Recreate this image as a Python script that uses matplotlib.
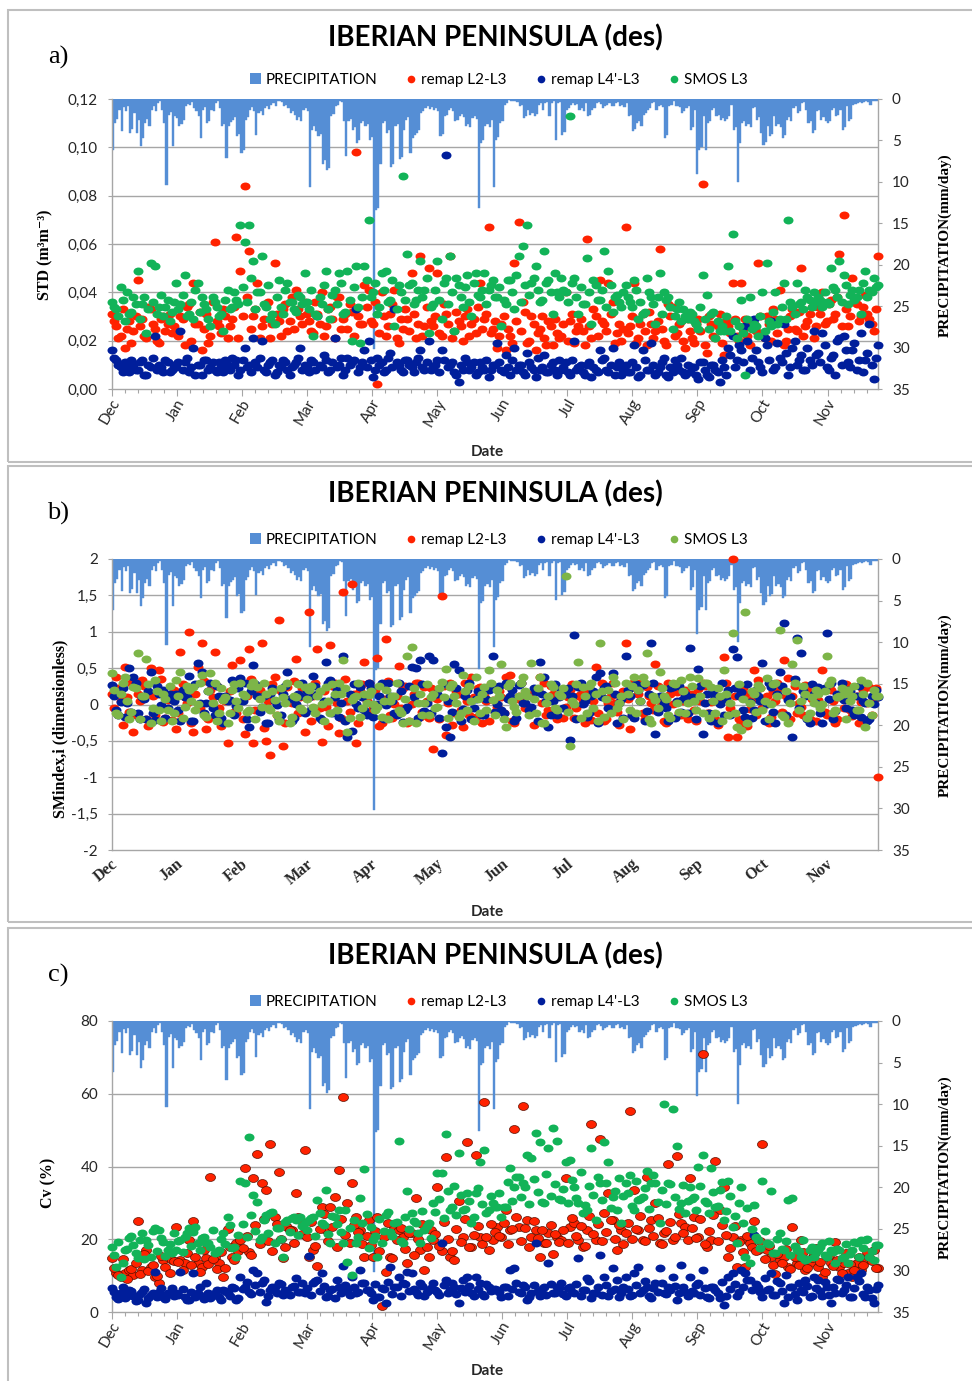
import numpy as np
import matplotlib
matplotlib.use("Agg")
import matplotlib.pyplot as plt
import matplotlib.transforms as mtransforms
from matplotlib.lines import Line2D
from matplotlib.markers import MarkerStyle
from matplotlib.patches import Patch, Rectangle

# ── Figure geometry (pixels) ──────────────────────────────────────────────────
W, H = 972, 1381
PLOT_L, PLOT_R = 112, 878

SANS = ['Lato', 'DejaVu Sans']
SERIF = ['Liberation Serif', 'DejaVu Serif']

C_PRECIP = '#558ED5'
C_L2 = '#FF2200'
C_L4 = '#001E9B'
C_SMOS = '#12B358'
C_SMOS_B = '#7DB548'
C_GRID = '#A6A6A6'
C_TEXT = '#262626'

# slightly flattened dots, as the spreadsheet draws them
DOT = MarkerStyle('o', transform=mtransforms.Affine2D().scale(1.2, 0.95))

# ── Data ──────────────────────────────────────────────────────────────────────
MONTHS = ['Dec', 'Jan', 'Feb', 'Mar', 'Apr', 'May',
          'Jun', 'Jul', 'Aug', 'Sep', 'Oct', 'Nov']
N_DAYS = 358
MONTH_LEN = 30.4

# daily precipitation, mm/day (Dec .. Nov)
PRECIP = [
    6.1, 2.9, 2.4, 1.3, 3.9, 1.0, 1.5, 0.9, 4.1, 3.6, 1.7, 4.1, 2.5, 5.7, 4.7,
    2.9, 2.4, 3.2, 1.3, 0.8, 1.5, 0.5, 0.3, 1.3, 2.9, 10.4, 1.9, 1.6, 5.7, 2.1,
    2.3, 3.3, 3.0, 2.5, 0.9, 0.6, 0.7, 0.4, 1.1, 1.4, 2.1, 4.7, 1.3, 1.0, 2.9,
    2.6, 1.3, 1.5, 0.5, 0.3, 1.1, 3.3, 3.0, 7.1, 3.3, 2.8, 2.5, 2.2, 4.5, 4.2,
    6.5, 6.2, 2.5, 2.2, 1.3, 1.0, 1.5, 4.3, 1.7, 1.4, 1.9, 1.1, 0.8, 1.2, 0.7,
    0.5, 0.8, 0.3, 0.2, 0.4, 0.9, 0.7, 1.1, 1.7, 1.5, 1.9, 2.5, 2.2, 2.7, 1.3,
    1.1, 1.4, 10.6, 3.7, 3.3, 3.9, 4.5, 4.2, 7.8, 7.4, 8.6, 8.3, 2.1, 1.8, 0.9,
    0.7, 0.3, 0.4, 2.7, 6.9, 2.7, 2.4, 3.7, 3.4, 5.3, 5.0, 2.9, 2.6, 3.3, 3.0,
    4.9, 4.6, 30.2, 13.4, 13.1, 7.8, 2.9, 2.6, 4.1, 3.8, 8.2, 7.9, 3.3, 3.0, 7.3,
    7.0, 3.7, 2.5, 2.2, 6.5, 4.7, 4.4, 4.1, 3.8, 1.7, 1.5, 1.1, 0.9, 1.2, 1.0,
    1.3, 1.1, 1.4, 4.5, 4.2, 2.1, 1.9, 1.3, 1.1, 1.4, 2.7, 2.5, 2.1, 1.8, 2.2,
    3.3, 3.0, 3.4, 2.3, 2.0, 2.4, 13.2, 5.3, 5.0, 3.3, 3.0, 3.4, 2.5, 10.6, 4.9,
    4.6, 2.9, 2.6, 0.7, 0.5, 0.1, 0.2, 0.3, 0.2, 0.4, 0.9, 0.7, 2.3, 2.0, 1.3,
    1.9, 1.7, 2.0, 1.8, 0.7, 0.5, 1.3, 0.5, 0.4, 2.1, 0.5, 0.3, 4.9, 0.5, 0.4,
    4.3, 4.0, 1.3, 1.1, 0.7, 0.5, 0.7, 0.6, 1.3, 1.1, 1.4, 0.5, 2.1, 1.9, 1.3,
    1.1, 0.5, 0.4, 0.6, 1.1, 0.9, 0.7, 0.5, 0.9, 0.8, 0.5, 0.4, 0.9, 0.7, 1.0,
    0.5, 2.1, 1.9, 3.9, 3.6, 2.9, 2.6, 3.3, 1.9, 1.7, 1.3, 1.1, 0.5, 0.4, 1.3,
    0.9, 0.7, 1.0, 4.7, 4.4, 0.9, 0.7, 0.3, 0.9, 0.8, 1.0, 1.7, 1.5, 1.1, 0.9,
    3.7, 3.4, 1.3, 9.0, 6.1, 5.8, 2.1, 6.1, 2.9, 2.6, 1.3, 1.1, 2.1, 1.9, 2.5,
    2.3, 2.6, 2.4, 2.1, 0.7, 3.7, 3.4, 10.0, 5.3, 2.9, 2.6, 3.3, 3.0, 3.4, 1.1,
    1.0, 2.5, 2.2, 4.1, 5.5, 5.2, 3.3, 4.5, 4.2, 2.1, 3.3, 3.0, 3.4, 4.7, 4.4,
    2.5, 2.2, 2.6, 1.1, 0.9, 1.7, 1.5, 0.5, 0.4, 1.3, 2.9, 2.6, 4.1, 3.8, 1.5,
    1.3, 2.5, 2.2, 2.6, 2.9, 2.7, 1.3, 1.1, 2.1, 1.9, 1.3, 3.7, 3.4, 0.9, 2.7,
    2.4, 0.7, 0.6, 0.5, 0.4, 0.5, 0.4, 0.3, 0.4, 0.7, 0.3, 0.2, 0.3,
]

# Each product is stored as two lists: retrievals on even days (0, 2, ..)
# and on odd days (1, 3, ..).

# a) standard deviation, m3/m3
STD_L2 = [
    0.031, 0.026, 0.022, 0.017, 0.028, 0.024, 0.045, 0.029, 0.021, 0.033, 0.025, 0.019, 0.030, 0.027, 0.023,
    0.024, 0.030, 0.018, 0.035, 0.044, 0.027, 0.016, 0.031, 0.022, 0.061, 0.026, 0.033, 0.021, 0.029, 0.063,
    0.049, 0.084, 0.057, 0.030, 0.044, 0.026, 0.035, 0.021, 0.052, 0.028, 0.033, 0.024, 0.038, 0.041, 0.030,
    0.036, 0.028, 0.023, 0.031, 0.040, 0.026, 0.034, 0.021, 0.038, 0.029, 0.025, 0.032, 0.098, 0.027, 0.043,
    0.041, 0.027, 0.002, 0.040, 0.022, 0.031, 0.041, 0.019, 0.025, 0.029, 0.048, 0.021, 0.055, 0.026, 0.050,
    0.026, 0.048, 0.022, 0.031, 0.055, 0.024, 0.028, 0.020, 0.033, 0.027, 0.023, 0.044, 0.029, 0.067, 0.025,
    0.017, 0.027, 0.016, 0.022, 0.052, 0.069, 0.036, 0.019, 0.030, 0.016, 0.025, 0.021, 0.028, 0.018, 0.023,
    0.022, 0.040, 0.028, 0.019, 0.026, 0.024, 0.062, 0.021, 0.030, 0.045, 0.027, 0.044, 0.036, 0.023, 0.020,
    0.067, 0.026, 0.044, 0.021, 0.031, 0.018, 0.027, 0.024, 0.058, 0.020, 0.035, 0.034, 0.023, 0.028, 0.017,
    0.024, 0.019, 0.029, 0.085, 0.015, 0.027, 0.021, 0.031, 0.014, 0.026, 0.044, 0.022, 0.044, 0.029, 0.018,
    0.027, 0.052, 0.022, 0.030, 0.020, 0.029, 0.041, 0.018, 0.025, 0.033, 0.024, 0.050, 0.026, 0.031, 0.021,
    0.034, 0.040, 0.028, 0.037, 0.031, 0.056, 0.072, 0.026, 0.046, 0.035, 0.030, 0.039, 0.029, 0.024, 0.055,
]
STD_L2_ODD = [
    0.028, 0.021, 0.033, 0.025, 0.019, 0.030, 0.026, 0.022, 0.034, 0.027, 0.020, 0.029, 0.024, 0.031, 0.026,
    0.022, 0.029, 0.034, 0.020, 0.027, 0.032, 0.025, 0.019, 0.036, 0.028, 0.023, 0.030, 0.026, 0.034, 0.021,
    0.030, 0.038, 0.025, 0.033, 0.021, 0.029, 0.036, 0.027, 0.031, 0.022, 0.035, 0.028, 0.025, 0.033, 0.027,
    0.031, 0.024, 0.036, 0.027, 0.022, 0.033, 0.029, 0.038, 0.025, 0.031, 0.035, 0.022, 0.030, 0.027, 0.034,
    0.028, 0.036, 0.023, 0.030, 0.026, 0.035, 0.021, 0.029, 0.033, 0.024, 0.031, 0.027, 0.022, 0.034, 0.028,
    0.030, 0.023, 0.035, 0.027, 0.021, 0.032, 0.026, 0.030, 0.022, 0.029, 0.034, 0.025, 0.031, 0.023, 0.028,
    0.022, 0.030, 0.025, 0.019, 0.028, 0.024, 0.032, 0.020, 0.027, 0.023, 0.030, 0.018, 0.026, 0.029, 0.021,
    0.027, 0.020, 0.031, 0.024, 0.029, 0.018, 0.026, 0.033, 0.022, 0.028, 0.024, 0.031, 0.019, 0.027, 0.025,
    0.023, 0.030, 0.019, 0.027, 0.024, 0.032, 0.021, 0.028, 0.025, 0.018, 0.030, 0.022, 0.027, 0.020, 0.029,
    0.021, 0.027, 0.024, 0.018, 0.030, 0.022, 0.026, 0.019, 0.028, 0.023, 0.029, 0.020, 0.025, 0.022, 0.027,
    0.024, 0.030, 0.021, 0.027, 0.033, 0.023, 0.028, 0.020, 0.030, 0.025, 0.032, 0.022, 0.028, 0.034, 0.026,
    0.031, 0.027, 0.035, 0.029, 0.038, 0.026, 0.033, 0.030, 0.036, 0.028, 0.034, 0.031, 0.027, 0.033,
]
STD_L4 = [
    0.016, 0.012, 0.009, 0.011, 0.007, 0.010, 0.008, 0.012, 0.006, 0.009, 0.022, 0.010, 0.007, 0.011, 0.008,
    0.009, 0.024, 0.011, 0.007, 0.017, 0.010, 0.006, 0.012, 0.009, 0.008, 0.011, 0.007, 0.010, 0.013, 0.012,
    0.008, 0.017, 0.010, 0.021, 0.009, 0.020, 0.007, 0.011, 0.006, 0.010, 0.012, 0.008, 0.009, 0.011, 0.017,
    0.010, 0.007, 0.011, 0.030, 0.009, 0.012, 0.008, 0.021, 0.010, 0.006, 0.013, 0.011, 0.033, 0.009, 0.016,
    0.020, 0.005, 0.013, 0.011, 0.008, 0.015, 0.033, 0.010, 0.007, 0.012, 0.009, 0.011, 0.016, 0.008, 0.020,
    0.009, 0.012, 0.016, 0.097, 0.010, 0.007, 0.003, 0.008, 0.011, 0.009, 0.006, 0.011, 0.008, 0.005, 0.010,
    0.019, 0.008, 0.014, 0.006, 0.017, 0.010, 0.007, 0.015, 0.009, 0.005, 0.008, 0.014, 0.007, 0.011, 0.006,
    0.008, 0.011, 0.006, 0.020, 0.009, 0.007, 0.010, 0.005, 0.008, 0.016, 0.013, 0.007, 0.017, 0.009, 0.006,
    0.010, 0.007, 0.018, 0.005, 0.016, 0.008, 0.019, 0.006, 0.009, 0.013, 0.005, 0.007, 0.010, 0.013, 0.006,
    0.007, 0.009, 0.004, 0.011, 0.006, 0.010, 0.008, 0.003, 0.009, 0.017, 0.022, 0.012, 0.016, 0.026, 0.008,
    0.029, 0.011, 0.007, 0.018, 0.028, 0.009, 0.013, 0.027, 0.006, 0.017, 0.010, 0.014, 0.008, 0.012, 0.024,
    0.015, 0.023, 0.009, 0.013, 0.006, 0.021, 0.022, 0.011, 0.016, 0.008, 0.023, 0.012, 0.027, 0.004, 0.018,
]
STD_L4_ODD = [
    0.013, 0.010, 0.007, 0.009, 0.012, 0.008, 0.011, 0.006, 0.010, 0.013, 0.008, 0.009, 0.012, 0.007, 0.010,
    0.011, 0.008, 0.013, 0.009, 0.006, 0.010, 0.012, 0.008, 0.011, 0.007, 0.009, 0.012, 0.008, 0.010, 0.006,
    0.012, 0.009, 0.007, 0.011, 0.013, 0.008, 0.010, 0.012, 0.007, 0.009, 0.011, 0.006, 0.010, 0.013, 0.008,
    0.009, 0.012, 0.008, 0.010, 0.014, 0.007, 0.011, 0.009, 0.013, 0.008, 0.010, 0.012, 0.007, 0.011, 0.009,
    0.012, 0.008, 0.010, 0.007, 0.013, 0.009, 0.011, 0.008, 0.012, 0.010, 0.007, 0.013, 0.009, 0.011, 0.008,
    0.010, 0.007, 0.012, 0.009, 0.011, 0.006, 0.010, 0.013, 0.008, 0.011, 0.007, 0.009, 0.012, 0.008, 0.010,
    0.011, 0.007, 0.009, 0.012, 0.008, 0.010, 0.006, 0.011, 0.008, 0.013, 0.009, 0.007, 0.010, 0.008, 0.012,
    0.009, 0.007, 0.012, 0.008, 0.010, 0.006, 0.011, 0.009, 0.007, 0.012, 0.008, 0.010, 0.006, 0.011, 0.008,
    0.007, 0.011, 0.009, 0.006, 0.012, 0.008, 0.010, 0.007, 0.011, 0.006, 0.009, 0.012, 0.008, 0.007, 0.010,
    0.009, 0.006, 0.011, 0.008, 0.005, 0.010, 0.007, 0.012, 0.006, 0.014, 0.009, 0.018, 0.011, 0.020, 0.013,
    0.016, 0.009, 0.021, 0.012, 0.008, 0.019, 0.011, 0.015, 0.009, 0.020, 0.012, 0.008, 0.017, 0.010, 0.014,
    0.011, 0.018, 0.008, 0.014, 0.020, 0.010, 0.016, 0.009, 0.019, 0.012, 0.007, 0.015, 0.010, 0.013,
]
STD_SMOS = [
    0.036, 0.033, 0.042, 0.028, 0.031, 0.038, 0.049, 0.035, 0.023, 0.052, 0.051, 0.034, 0.030, 0.037, 0.032,
    0.044, 0.035, 0.047, 0.031, 0.029, 0.044, 0.038, 0.033, 0.026, 0.036, 0.030, 0.024, 0.041, 0.034, 0.037,
    0.068, 0.061, 0.068, 0.053, 0.040, 0.055, 0.034, 0.029, 0.027, 0.045, 0.031, 0.044, 0.036, 0.032, 0.038,
    0.048, 0.033, 0.022, 0.030, 0.035, 0.049, 0.029, 0.041, 0.048, 0.031, 0.049, 0.020, 0.051, 0.019, 0.051,
    0.070, 0.040, 0.031, 0.048, 0.049, 0.037, 0.026, 0.043, 0.088, 0.056, 0.044, 0.037, 0.053, 0.041, 0.023,
    0.035, 0.053, 0.029, 0.046, 0.055, 0.024, 0.043, 0.034, 0.047, 0.030, 0.048, 0.038, 0.048, 0.041, 0.045,
    0.038, 0.026, 0.035, 0.045, 0.033, 0.055, 0.059, 0.068, 0.044, 0.051, 0.036, 0.057, 0.045, 0.031, 0.040,
    0.046, 0.040, 0.113, 0.046, 0.031, 0.035, 0.054, 0.027, 0.043, 0.037, 0.057, 0.049, 0.032, 0.039, 0.034,
    0.043, 0.036, 0.045, 0.029, 0.031, 0.046, 0.038, 0.027, 0.048, 0.040, 0.038, 0.025, 0.033, 0.028, 0.030,
    0.032, 0.028, 0.025, 0.047, 0.039, 0.031, 0.021, 0.024, 0.024, 0.051, 0.064, 0.021, 0.037, 0.006, 0.038,
    0.027, 0.022, 0.040, 0.052, 0.026, 0.040, 0.029, 0.044, 0.070, 0.034, 0.044, 0.036, 0.041, 0.037, 0.040,
    0.038, 0.034, 0.036, 0.050, 0.041, 0.053, 0.047, 0.035, 0.041, 0.038, 0.031, 0.049, 0.041, 0.046, 0.043,
]
STD_SMOS_ODD = [
    0.034, 0.030, 0.037, 0.040, 0.032, 0.035, 0.029, 0.038, 0.033, 0.036, 0.031, 0.039, 0.034, 0.028, 0.036,
    0.033, 0.039, 0.030, 0.036, 0.041, 0.032, 0.035, 0.029, 0.038, 0.034, 0.031, 0.037, 0.033, 0.040, 0.035,
    0.042, 0.036, 0.046, 0.033, 0.040, 0.035, 0.043, 0.031, 0.038, 0.034, 0.041, 0.036, 0.033, 0.039, 0.035,
    0.036, 0.041, 0.031, 0.038, 0.043, 0.033, 0.039, 0.035, 0.044, 0.032, 0.037, 0.042, 0.034, 0.038, 0.045,
    0.038, 0.044, 0.034, 0.041, 0.036, 0.045, 0.033, 0.040, 0.037, 0.043, 0.035, 0.041, 0.038, 0.046, 0.034,
    0.041, 0.037, 0.044, 0.035, 0.040, 0.046, 0.038, 0.042, 0.036, 0.044, 0.039, 0.041, 0.035, 0.043, 0.038,
    0.042, 0.037, 0.045, 0.040, 0.047, 0.036, 0.043, 0.039, 0.046, 0.041, 0.037, 0.044, 0.040, 0.048, 0.038,
    0.041, 0.036, 0.044, 0.038, 0.042, 0.035, 0.040, 0.045, 0.037, 0.041, 0.034, 0.043, 0.038, 0.036, 0.040,
    0.038, 0.034, 0.041, 0.036, 0.032, 0.040, 0.035, 0.038, 0.031, 0.037, 0.034, 0.030, 0.036, 0.033, 0.029,
    0.031, 0.027, 0.034, 0.029, 0.025, 0.032, 0.028, 0.026, 0.030, 0.024, 0.028, 0.026, 0.023, 0.029, 0.025,
    0.026, 0.030, 0.024, 0.028, 0.032, 0.027, 0.034, 0.029, 0.036, 0.031, 0.035, 0.033, 0.038, 0.034, 0.036,
    0.037, 0.040, 0.035, 0.042, 0.038, 0.036, 0.043, 0.039, 0.037, 0.041, 0.044, 0.038, 0.040, 0.042,
]

# b) soil moisture index, dimensionless
IDX_L2 = [
    0.15, 0.38, 0.05, 0.52, -0.10, -0.38, 0.14, 0.33, -0.20, 0.50, -0.15, 0.47, -0.24, 0.06, -0.21,
    -0.34, 0.72, 0.10, 1.00, -0.38, 0.52, 0.84, -0.34, 0.20, 0.72, -0.05, 0.06, -0.53, 0.54, -0.12,
    0.61, -0.41, 0.76, -0.53, 0.15, 0.84, -0.50, -0.70, 0.38, 1.16, -0.57, 0.24, 0.02, 0.62, 0.10,
    -0.38, 1.27, 0.12, 0.76, -0.51, -0.03, 0.82, 0.29, -0.39, 1.55, 0.05, 1.65, -0.53, 0.18, 0.59,
    0.29, -0.05, 0.64, -0.26, 0.90, -0.15, 0.01, 0.53, 0.22, -0.26, 0.01, 0.29, -0.17, 0.24, -0.18,
    -0.61, 0.08, 1.49, -0.42, 0.29, -0.12, 0.15, -0.31, 0.05, 0.38, -0.17, 0.24, 0.12, -0.22, 0.06,
    -0.03, 0.10, 0.38, 0.40, -0.26, 0.11, 0.04, 0.15, -0.12, 0.20, 0.38, 0.29, -0.08, 0.14, -0.20,
    0.20, -0.03, 0.20, -0.19, 0.11, 0.06, 0.20, -0.21, 0.51, 0.15, -0.23, 0.02, 0.30, -0.10, 0.08,
    0.85, -0.33, 0.31, 0.15, -0.12, 0.24, 0.02, 0.55, -0.03, -0.22, 0.29, 0.01, 0.17, -0.14, 0.20,
    0.06, -0.08, 0.21, 0.29, -0.12, 0.04, -0.20, 0.10, 0.65, -0.44, 2.00, -0.44, -0.26, 0.14, -0.06,
    0.48, 0.33, -0.05, 0.11, -0.17, 0.05, 0.22, 0.61, 0.36, 0.12, -0.12, -0.03, 0.27, -0.20, 0.15,
    0.06, 0.48, -0.14, 0.20, -0.26, 0.10, -0.05, 0.19, -0.16, 0.11, 0.03, -0.21, 0.24, 0.08, -0.99,
]
IDX_L2_ODD = [
    -0.05, 0.22, -0.28, 0.10, 0.30, -0.15, 0.05, 0.25, -0.30, 0.12, -0.08, 0.35, -0.18, 0.08, 0.20,
    -0.12, 0.28, 0.02, -0.25, 0.15, -0.05, 0.32, -0.20, 0.10, 0.25, -0.30, 0.05, 0.18, -0.10, 0.30,
    -0.20, 0.12, 0.35, -0.08, 0.20, -0.32, 0.05, 0.28, -0.15, 0.18, -0.25, 0.08, 0.32, -0.12, 0.22,
    0.10, -0.22, 0.30, -0.05, 0.18, -0.30, 0.25, 0.02, -0.18, 0.35, -0.10, 0.15, -0.25, 0.28, 0.05,
    -0.12, 0.20, -0.30, 0.08, 0.32, -0.18, 0.12, -0.05, 0.25, -0.22, 0.15, 0.30, -0.10, 0.05, 0.22,
    0.12, -0.20, 0.25, 0.02, -0.28, 0.18, -0.08, 0.30, -0.15, 0.10, 0.22, -0.25, 0.05, 0.28, -0.10,
    0.18, -0.12, 0.25, -0.22, 0.08, 0.30, -0.05, 0.15, -0.28, 0.20, 0.02, -0.15, 0.25, -0.08, 0.12,
    -0.18, 0.10, 0.28, -0.05, 0.15, -0.25, 0.22, 0.05, -0.12, 0.30, -0.20, 0.12, 0.02, -0.28, 0.18,
    0.08, -0.15, 0.22, 0.30, -0.20, 0.12, -0.08, 0.25, 0.02, -0.25, 0.15, 0.28, -0.12, 0.05, -0.20,
    0.15, -0.22, 0.05, 0.25, -0.12, 0.18, -0.28, 0.10, 0.30, -0.05, 0.12, -0.20, 0.22, -0.30, 0.08,
    -0.15, 0.22, 0.05, -0.25, 0.18, 0.30, -0.10, 0.12, -0.20, 0.25, 0.02, -0.15, 0.20, 0.08, -0.22,
    0.18, -0.10, 0.25, 0.05, -0.20, 0.15, 0.28, -0.08, 0.12, -0.25, 0.20, 0.02, -0.15, 0.22,
]
IDX_L4 = [
    0.27, -0.08, 0.04, -0.17, 0.50, 0.38, -0.12, 0.10, -0.20, 0.45, -0.21, 0.15, 0.20, -0.05, 0.08,
    0.15, -0.22, 0.10, 0.39, -0.23, 0.57, 0.45, 0.02, 0.29, -0.14, 0.11, -0.26, 0.05, 0.33, -0.02,
    0.36, 0.29, -0.31, 0.54, 0.11, -0.03, -0.26, 0.15, 0.05, -0.20, 0.15, 0.44, -0.22, 0.01, 0.12,
    -0.12, 0.10, 0.39, 0.15, -0.21, 0.59, 0.33, 0.10, -0.17, 0.66, -0.44, -0.36, 0.01, 0.24, -0.08,
    0.29, -0.17, 0.01, 0.29, -0.01, 0.12, -0.12, 0.29, -0.24, -0.03, 0.52, 0.50, 0.61, -0.09, 0.66,
    0.61, 0.14, -0.67, -0.31, -0.44, 0.56, 0.47, -0.06, 0.20, -0.20, 0.08, 0.12, -0.15, 0.20, 0.66,
    0.01, -0.08, 0.29, 0.11, -0.22, 0.27, 0.02, 0.11, -0.03, 0.17, 0.59, 0.38, -0.31, 0.05, -0.15,
    0.20, 0.15, -0.49, 0.96, 0.24, 0.01, -0.17, 0.12, 0.38, 0.43, 0.22, -0.05, 0.43, -0.26, 0.08,
    0.66, 0.11, -0.18, 0.20, 0.27, -0.09, 0.85, -0.40, 0.11, 0.02, -0.22, 0.24, 0.05, -0.10, 0.15,
    0.78, 0.06, 0.49, -0.41, 0.15, -0.22, 0.10, 0.01, -0.14, 0.20, 0.76, 0.65, 0.17, -0.17, 0.04,
    -0.08, 0.12, 0.57, 0.01, 0.24, -0.26, 0.44, 1.12, 0.06, -0.45, 0.92, 0.71, 0.11, -0.26, 0.15,
    0.24, -0.26, 0.98, 0.29, -0.09, 0.15, 0.06, 0.20, -0.08, 0.11, -0.17, 0.02, -0.20, 0.01, 0.10,
]
IDX_L4_ODD = [
    0.12, -0.15, 0.22, 0.02, -0.10, 0.30, -0.20, 0.08, 0.18, -0.12, 0.25, 0.00, -0.18, 0.15, 0.05,
    -0.08, 0.20, 0.10, -0.22, 0.28, 0.02, -0.12, 0.18, -0.05, 0.25, -0.18, 0.12, 0.06, -0.15, 0.22,
    0.05, -0.20, 0.18, 0.28, -0.10, 0.12, -0.25, 0.22, 0.00, -0.15, 0.25, 0.08, -0.18, 0.15, 0.30,
    0.18, -0.08, 0.25, -0.18, 0.05, 0.30, -0.12, 0.20, 0.02, -0.22, 0.15, 0.28, -0.05, 0.10, -0.15,
    0.22, -0.05, 0.12, -0.20, 0.30, 0.05, -0.15, 0.18, -0.08, 0.25, 0.10, -0.18, 0.28, 0.02, -0.12,
    0.15, -0.18, 0.28, 0.05, -0.10, 0.22, -0.22, 0.12, 0.30, -0.05, 0.18, -0.15, 0.08, 0.25, -0.10,
    0.25, -0.12, 0.08, 0.20, -0.18, 0.30, 0.02, -0.08, 0.22, -0.22, 0.15, 0.05, -0.15, 0.28, 0.10,
    -0.05, 0.22, 0.12, -0.20, 0.30, 0.05, -0.12, 0.18, -0.25, 0.10, 0.25, -0.08, 0.15, 0.02, -0.18,
    0.20, -0.15, 0.28, 0.05, -0.22, 0.15, 0.30, -0.10, 0.12, -0.05, 0.22, -0.18, 0.25, 0.08, -0.12,
    0.10, -0.20, 0.25, 0.02, -0.12, 0.18, -0.25, 0.30, 0.08, -0.15, 0.22, 0.12, -0.08, 0.28, -0.18,
    0.20, 0.05, -0.22, 0.30, -0.10, 0.15, 0.25, -0.15, 0.10, 0.35, -0.05, 0.18, -0.20, 0.28, 0.02,
    -0.12, 0.22, 0.08, -0.20, 0.15, 0.30, -0.05, 0.18, -0.15, 0.25, 0.05, -0.22, 0.12, 0.20,
]
IDX_SMOS = [
    0.43, -0.12, 0.15, 0.38, -0.20, 0.24, 0.71, 0.12, 0.62, -0.26, 0.33, -0.08, 0.15, -0.08, -0.22,
    0.33, 0.45, -0.03, 0.20, 0.24, 0.01, 0.40, -0.17, 0.43, 0.29, -0.12, 0.06, -0.26, 0.20, 0.05,
    0.29, 0.11, -0.08, 0.31, 0.24, -0.03, 0.15, -0.08, 0.06, -0.22, 0.10, 0.29, -0.17, 0.10, -0.05,
    0.24, 0.20, -0.03, 0.12, 0.01, 0.24, -0.12, 0.15, 0.29, 0.61, -0.38, 0.06, 0.11, -0.17, 0.15,
    0.13, 0.01, -0.03, -0.17, 0.20, 0.05, 0.11, -0.08, -0.26, 0.66, 0.79, -0.26, 0.15, 0.02, -0.15,
    0.15, -0.03, 0.31, 0.49, 0.24, 0.11, -0.17, 0.41, -0.08, 0.05, 0.38, -0.12, 0.24, 0.48, 0.06,
    0.20, 0.55, -0.31, 0.29, -0.03, 0.11, 0.38, 0.12, 0.57, -0.12, 0.38, -0.26, 0.11, 0.24, -0.08,
    0.11, 1.76, -0.57, 0.01, 0.59, 0.24, -0.12, 0.29, 0.15, 0.84, -0.17, 0.20, 0.38, -0.05, 0.12,
    0.29, -0.08, 0.38, 0.20, 0.38, 0.71, -0.26, 0.06, 0.44, 0.11, -0.14, 0.29, 0.02, 0.33, -0.12,
    0.38, 0.05, 0.36, -0.12, 0.29, 0.24, -0.12, 0.11, 0.47, -0.15, 0.98, -0.31, -0.35, 1.27, 0.02,
    0.15, 0.27, -0.08, 0.36, 0.01, 0.29, 1.02, -0.17, -0.26, 0.56, 0.89, 0.05, 0.15, -0.12, 0.02,
    0.15, 0.01, 0.66, 0.33, -0.08, 0.11, 0.15, 0.20, 0.11, -0.08, 0.33, -0.31, 0.02, 0.20, 0.11,
]
IDX_SMOS_ODD = [
    0.20, -0.15, 0.30, 0.05, -0.10, 0.22, -0.20, 0.12, 0.28, -0.05, 0.18, -0.22, 0.08, 0.25, -0.12,
    0.12, -0.18, 0.25, 0.05, -0.08, 0.30, -0.15, 0.18, 0.02, -0.22, 0.22, 0.10, -0.12, 0.28, -0.05,
    0.15, -0.10, 0.25, -0.20, 0.08, 0.30, -0.05, 0.18, -0.15, 0.22, 0.02, -0.25, 0.12, 0.28, -0.08,
    0.08, 0.25, -0.12, 0.18, -0.22, 0.05, 0.28, -0.08, 0.15, 0.22, -0.18, 0.10, 0.30, -0.05, 0.02,
    0.18, -0.08, 0.25, 0.05, -0.20, 0.12, 0.30, -0.12, 0.08, -0.22, 0.22, 0.02, -0.15, 0.28, 0.10,
    -0.05, 0.22, 0.10, -0.18, 0.28, 0.02, -0.12, 0.18, 0.25, -0.22, 0.08, 0.15, -0.08, 0.30, -0.15,
    0.12, -0.20, 0.25, 0.05, -0.10, 0.30, 0.18, -0.15, 0.08, 0.22, -0.25, 0.02, 0.28, -0.05, 0.15,
    0.22, -0.10, 0.05, 0.28, -0.18, 0.12, 0.25, -0.05, -0.22, 0.18, 0.08, -0.12, 0.30, 0.02, -0.20,
    0.15, 0.25, -0.12, 0.05, 0.30, -0.20, 0.12, -0.05, 0.22, 0.08, -0.18, 0.28, -0.10, 0.18, 0.02,
    0.25, -0.08, 0.12, 0.30, -0.18, 0.05, 0.22, -0.22, 0.15, 0.02, -0.12, 0.28, 0.08, -0.25, 0.18,
    -0.10, 0.22, 0.05, -0.20, 0.28, 0.12, -0.15, 0.18, 0.02, 0.30, -0.08, 0.25, -0.18, 0.10, 0.20,
    -0.05, 0.18, 0.28, -0.12, 0.10, 0.22, -0.20, 0.05, 0.25, -0.08, 0.15, 0.30, -0.15, 0.12,
]

# c) coefficient of variation, %
CV_L2 = [
    14.8, 10.6, 9.7, 10.6, 11.5, 10.2, 25.0, 11.5, 17.0, 12.5, 9.7, 7.9, 14.3, 15.2, 14.3,
    23.5, 14.3, 13.4, 19.8, 25.0, 13.4, 12.5, 14.8, 37.2, 15.2, 13.4, 9.7, 22.7, 15.2, 18.9,
    19.8, 39.5, 16.5, 36.8, 43.4, 35.4, 33.6, 46.1, 26.2, 38.6, 14.8, 23.5, 22.6, 32.8, 25.3,
    44.5, 15.2, 17.0, 12.6, 29.0, 22.6, 29.0, 31.7, 39.0, 59.0, 29.9, 35.6, 26.2, 22.6, 15.2,
    25.3, 15.2, 26.2, 1.6, 11.1, 15.2, 23.5, 22.6, 20.7, 13.4, 21.6, 31.3, 17.0, 11.5, 15.2,
    19.8, 34.5, 16.9, 42.7, 15.2, 14.3, 30.5, 20.7, 46.6, 18.0, 43.2, 20.7, 57.6, 17.0, 19.8,
    23.5, 20.7, 28.0, 22.6, 50.2, 23.5, 56.5, 25.3, 20.7, 22.6, 15.2, 18.9, 21.6, 16.0, 20.7,
    19.8, 36.8, 23.5, 24.4, 19.8, 18.0, 22.6, 51.7, 19.8, 47.5, 27.1, 32.6, 25.3, 17.0, 22.6,
    21.6, 55.3, 33.5, 22.6, 19.8, 37.2, 25.3, 29.9, 18.9, 21.6, 40.7, 19.8, 43.0, 24.4, 23.5,
    36.8, 26.2, 20.7, 70.9, 18.0, 19.8, 41.6, 28.0, 34.5, 15.2, 20.7, 12.5, 19.8, 12.5, 18.9,
    25.1, 17.0, 46.1, 17.0, 15.2, 10.4, 14.3, 15.2, 12.5, 23.5, 13.4, 19.8, 11.5, 13.4, 16.0,
    12.5, 9.7, 15.2, 13.4, 19.3, 12.5, 13.4, 10.6, 9.7, 13.4, 11.5, 14.3, 15.2, 17.0, 12.0,
]
CV_L2_ODD = [
    12.0, 10.1, 14.5, 9.2, 11.8, 13.6, 10.5, 16.0, 11.2, 13.0, 9.8, 15.4, 12.4, 10.8, 14.0,
    13.8, 11.5, 16.2, 12.8, 15.0, 10.9, 17.1, 13.2, 14.6, 11.8, 16.5, 12.2, 18.0, 14.2, 16.8,
    17.5, 21.0, 15.8, 23.8, 18.6, 25.5, 19.4, 16.9, 24.2, 20.1, 17.8, 22.5, 19.0, 26.0, 21.4,
    20.5, 24.8, 18.2, 22.9, 27.0, 19.6, 23.4, 17.9, 25.6, 21.2, 19.0, 24.0, 22.0, 18.6, 20.9,
    18.5, 22.4, 16.8, 20.5, 24.6, 14.9, 19.8, 23.0, 17.4, 21.8, 15.6, 20.2, 24.1, 18.0, 22.6,
    21.5, 18.2, 24.8, 20.0, 16.9, 22.9, 19.2, 25.5, 17.8, 21.2, 23.6, 18.8, 20.6, 24.2, 22.0,
    21.0, 24.5, 18.6, 22.8, 26.2, 19.5, 23.2, 17.8, 25.0, 20.4, 22.6, 18.9, 24.0, 21.5, 19.2,
    22.5, 19.0, 25.8, 20.8, 23.6, 18.2, 26.5, 21.4, 24.2, 19.6, 22.0, 25.2, 20.2, 23.8, 18.8,
    24.6, 20.2, 22.8, 26.4, 19.4, 23.2, 21.0, 25.8, 18.6, 22.4, 24.8, 20.6, 27.0, 21.8, 19.8,
    23.0, 20.4, 25.6, 18.8, 22.2, 26.8, 19.6, 24.0, 21.2, 17.6, 23.6, 19.2, 16.4, 21.0, 18.0,
    16.8, 19.6, 14.6, 18.2, 12.8, 16.0, 13.6, 17.4, 11.8, 15.2, 13.0, 16.6, 12.2, 14.8, 17.6,
    13.8, 11.0, 15.8, 12.6, 14.4, 10.8, 16.2, 13.2, 11.6, 15.0, 12.8, 16.6, 14.0, 12.2,
]
CV_L4 = [
    6.5, 4.2, 5.1, 3.8, 6.0, 4.5, 3.2, 5.5, 2.4, 4.8, 11.1, 5.6, 4.1, 5.1, 6.5,
    5.2, 11.1, 4.2, 3.3, 10.6, 5.1, 4.5, 7.9, 3.8, 5.1, 4.2, 6.0, 5.1, 7.0, 3.3,
    9.7, 7.0, 5.5, 11.5, 10.6, 7.9, 2.8, 6.0, 7.0, 7.9, 4.8, 5.1, 7.0, 9.3, 5.6,
    5.1, 15.4, 7.9, 8.8, 10.6, 4.2, 6.0, 3.8, 7.0, 12.6, 6.0, 9.7, 5.1, 11.5, 7.9,
    6.0, 3.3, 4.2, 6.5, 2.4, 12.5, 7.0, 9.7, 7.9, 11.1, 10.6, 5.5, 7.9, 4.5, 6.0,
    7.9, 5.5, 18.9, 8.8, 6.0, 7.0, 2.4, 8.8, 9.7, 5.1, 9.7, 7.9, 4.5, 7.0, 6.0,
    6.0, 4.2, 7.0, 11.5, 12.0, 5.5, 7.4, 3.3, 5.1, 18.9, 4.5, 7.0, 13.4, 5.1, 7.0,
    7.9, 4.5, 7.0, 5.1, 14.8, 6.0, 9.3, 3.8, 5.1, 15.7, 9.7, 4.5, 12.0, 8.8, 5.1,
    9.7, 4.5, 10.6, 12.5, 6.0, 7.0, 3.8, 7.9, 12.0, 5.1, 7.0, 9.7, 3.3, 12.9, 5.5,
    9.7, 5.1, 7.9, 11.5, 4.2, 7.0, 6.0, 3.8, 1.9, 9.7, 10.6, 4.5, 11.5, 10.6, 8.8,
    21.2, 7.0, 4.2, 6.0, 10.6, 4.8, 7.9, 2.4, 4.2, 7.0, 3.3, 6.0, 8.8, 4.2, 9.7,
    8.8, 4.5, 7.0, 2.4, 5.1, 8.8, 6.0, 9.7, 4.2, 9.7, 10.6, 4.2, 6.0, 2.4, 7.4,
]
CV_L4_ODD = [
    5.4, 3.6, 6.8, 4.4, 5.9, 3.1, 4.9, 6.2, 3.9, 5.3, 4.1, 6.6, 3.5, 5.0, 4.3,
    4.6, 6.3, 3.4, 5.6, 4.0, 6.9, 3.7, 5.2, 4.7, 6.1, 3.2, 5.8, 4.4, 6.5, 3.9,
    6.4, 8.2, 4.9, 7.3, 5.6, 8.8, 4.3, 6.9, 5.1, 7.8, 6.0, 4.6, 7.2, 5.4, 8.0,
    6.6, 4.8, 8.4, 5.9, 7.1, 4.4, 6.3, 8.9, 5.2, 7.4, 4.7, 6.8, 5.6, 8.1, 6.0,
    5.2, 7.6, 4.1, 6.4, 8.3, 5.0, 6.9, 4.4, 7.8, 5.7, 6.2, 4.8, 7.1, 5.5, 6.6,
    6.1, 4.6, 7.5, 5.3, 8.0, 4.9, 6.7, 5.6, 7.2, 4.3, 6.4, 5.0, 7.8, 5.8, 6.3,
    5.4, 7.0, 4.5, 6.3, 8.1, 5.1, 6.8, 4.2, 7.4, 5.7, 6.2, 4.8, 7.7, 5.2, 6.5,
    4.9, 6.6, 5.5, 7.8, 4.4, 6.0, 8.4, 5.1, 6.9, 4.6, 7.3, 5.8, 6.4, 4.2, 7.0,
    6.2, 4.7, 7.5, 5.3, 8.6, 4.4, 6.6, 5.6, 7.9, 4.9, 6.0, 7.2, 5.1, 6.8, 4.5,
    5.8, 7.4, 4.6, 6.5, 3.9, 7.0, 5.2, 8.2, 4.4, 6.2, 7.7, 5.5, 6.9, 8.8, 6.0,
    7.8, 5.4, 9.4, 6.4, 4.6, 8.6, 5.8, 10.2, 6.9, 4.9, 8.0, 5.6, 7.2, 4.4, 6.7,
    5.9, 8.2, 4.7, 6.8, 9.1, 5.3, 7.4, 4.2, 6.5, 8.6, 5.0, 7.0, 3.8, 6.2,
]
CV_SMOS = [
    18.0, 12.5, 9.7, 17.0, 20.3, 18.4, 14.8, 21.8, 19.8, 15.2, 23.0, 22.6, 19.3, 17.0, 16.1,
    17.0, 19.8, 20.7, 23.0, 22.1, 18.9, 20.3, 18.9, 18.0, 16.1, 17.0, 21.6, 26.2, 17.5, 15.2,
    36.0, 35.5, 48.2, 32.2, 30.3, 20.7, 26.7, 27.1, 18.9, 23.0, 15.2, 25.3, 25.8, 25.3, 26.2,
    24.4, 25.3, 26.2, 30.8, 24.4, 33.5, 18.9, 26.2, 28.0, 18.9, 13.8, 10.2, 18.9, 31.3, 39.2,
    17.5, 19.8, 15.2, 18.9, 26.7, 22.1, 24.4, 47.0, 18.9, 33.3, 27.1, 24.4, 18.9, 22.6, 24.4,
    30.1, 38.1, 38.1, 48.9, 28.0, 34.7, 43.8, 28.0, 32.6, 24.4, 32.6, 41.3, 44.5, 28.0, 29.9,
    29.0, 26.2, 29.0, 39.5, 34.5, 37.2, 35.4, 43.2, 42.3, 49.3, 46.6, 29.9, 45.0, 50.5, 47.0,
    30.8, 41.3, 41.7, 34.5, 29.9, 27.1, 28.0, 45.0, 25.3, 35.4, 46.6, 41.2, 31.7, 28.0, 24.4,
    35.4, 37.7, 28.0, 30.8, 31.7, 38.9, 35.4, 35.4, 24.4, 57.2, 35.4, 55.7, 45.5, 29.9, 27.1,
    34.5, 31.7, 40.0, 43.2, 29.9, 39.5, 29.0, 33.5, 25.3, 36.1, 23.5, 18.9, 34.5, 15.2, 13.4,
    29.4, 19.8, 36.0, 18.9, 33.3, 16.1, 21.6, 17.0, 30.8, 31.3, 17.0, 15.2, 14.3, 17.0, 15.2,
    17.0, 18.9, 15.2, 17.0, 13.4, 17.0, 15.2, 13.4, 17.0, 18.9, 19.8, 19.8, 15.2, 14.3, 18.4,
]
CV_SMOS_ODD = [
    15.8, 19.2, 13.6, 17.4, 21.0, 16.2, 19.8, 14.6, 18.4, 22.2, 16.8, 20.4, 15.4, 18.8, 21.6,
    19.4, 16.6, 21.8, 18.2, 23.4, 17.0, 20.6, 19.0, 22.6, 16.4, 20.0, 18.6, 23.8, 17.8, 21.2,
    24.2, 20.6, 26.8, 22.4, 19.8, 25.4, 21.6, 27.6, 23.2, 20.2, 24.8, 22.0, 26.2, 21.2, 23.6,
    22.6, 25.8, 20.8, 27.2, 23.8, 21.4, 26.4, 24.2, 22.0, 28.0, 23.0, 25.2, 20.6, 24.6, 27.0,
    23.4, 20.8, 25.6, 22.2, 27.4, 21.0, 24.8, 19.6, 26.2, 22.8, 25.0, 21.6, 27.8, 23.6, 20.4,
    27.6, 31.2, 25.8, 33.4, 29.0, 26.6, 32.2, 28.4, 30.6, 26.0, 34.0, 29.6, 27.2, 31.8, 28.8,
    32.6, 28.8, 35.8, 30.4, 37.2, 31.6, 34.4, 29.6, 36.6, 33.0, 30.2, 38.0, 32.0, 35.2, 31.0,
    33.8, 30.0, 36.4, 31.4, 38.4, 29.4, 34.6, 32.2, 37.0, 30.8, 35.6, 28.6, 33.2, 36.8, 31.8,
    32.8, 29.2, 36.0, 31.0, 34.2, 28.4, 37.6, 30.2, 33.6, 29.8, 35.2, 31.6, 28.2, 34.8, 30.6,
    31.2, 28.0, 34.6, 30.4, 27.2, 33.0, 29.2, 35.8, 27.8, 31.8, 26.4, 30.0, 24.6, 28.6, 22.8,
    20.6, 17.6, 22.4, 18.8, 16.2, 20.0, 17.2, 19.4, 15.8, 18.2, 16.8, 19.8, 14.6, 17.8, 16.4,
    18.0, 15.6, 19.6, 16.4, 17.2, 14.8, 18.6, 16.0, 19.2, 15.2, 17.6, 20.2, 16.8, 18.4,
]

STD_TICKS = [0.0, 0.02, 0.04, 0.06, 0.08, 0.10, 0.12]
STD_LABELS = ['0,00', '0,02', '0,04', '0,06', '0,08', '0,10', '0,12']
IDX_TICKS = [-2, -1.5, -1, -0.5, 0, 0.5, 1, 1.5, 2]
IDX_LABELS = ['-2', '-1,5', '-1', '-0,5', '0', '0,5', '1', '1,5', '2']
CV_TICKS = [0, 20, 40, 60, 80]
CV_LABELS = ['0', '20', '40', '60', '80']
PRECIP_TICKS = [0, 5, 10, 15, 20, 25, 30, 35]


def fx(px):
    return px / W


def fy(py):
    return 1 - py / H


def day_series(even, odd):
    """Merge the even-day and odd-day retrievals into (day, value) arrays."""
    xs = np.concatenate([np.arange(len(even)) * 2, np.arange(len(odd)) * 2 + 1])
    ys = np.concatenate([even, odd])
    return xs, ys


def draw_panel(fig, frame, top, bottom, letter, l2, l4, smos, smos_color,
               yticks, ylabels, ylabel, ylabel_pos, serif_months, red_edge):
    ax = fig.add_axes([fx(PLOT_L), fy(bottom), (PLOT_R - PLOT_L) / W, (bottom - top) / H])
    axr = ax.twinx()
    ax.set_zorder(axr.get_zorder() + 1)
    ax.patch.set_visible(False)
    axr.patch.set_facecolor('white')

    # precipitation hanging from the top (inverted right axis)
    days = np.arange(len(PRECIP))
    axr.bar(days, PRECIP, width=1.0, align='edge', color=C_PRECIP,
            edgecolor=C_PRECIP, linewidth=0.3, zorder=2)
    axr.set_ylim(35, 0)
    axr.set_yticks(PRECIP_TICKS)
    axr.tick_params(axis='y', length=3, width=0.8, color=C_GRID, pad=7,
                    labelsize=11, labelcolor=C_TEXT)
    for lab in axr.get_yticklabels():
        lab.set_family(SANS)
    for s in ('left', 'top', 'bottom'):
        axr.spines[s].set_visible(False)
    axr.spines['right'].set_color(C_GRID)
    axr.spines['right'].set_linewidth(1.0)

    # horizontal gridlines behind the bars
    ax.set_ylim(yticks[0], yticks[-1])
    grid_tf = mtransforms.blended_transform_factory(axr.transAxes, ax.transData)
    for v in yticks[1:-1]:
        axr.plot([0, 1], [v, v], transform=grid_tf, color=C_GRID, lw=1.0, zorder=1)

    for (even, odd), col in ((l2, C_L2), (l4, C_L4), (smos, smos_color)):
        xs, ys = day_series(even, odd)
        kw = dict(s=36, marker=DOT, color=col, linewidths=0, clip_on=False, zorder=3)
        if red_edge and col == C_L2:
            kw.update(edgecolors='#5a1000', linewidths=0.5)
        ax.scatter(xs, ys, **kw)

    ax.set_xlim(0, N_DAYS)
    ax.set_yticks(yticks)
    ax.set_yticklabels(ylabels, family=SANS, fontsize=11, color=C_TEXT)
    ax.tick_params(axis='y', length=3, width=0.8, color=C_GRID, pad=7)
    for s in ('top', 'right'):
        ax.spines[s].set_visible(False)
    for s in ('left', 'bottom'):
        ax.spines[s].set_color(C_GRID)
        ax.spines[s].set_linewidth(1.0)

    month_pos = np.arange(12) * MONTH_LEN
    ax.set_xticks(month_pos)
    ax.set_xticklabels([])
    if serif_months:
        ax.tick_params(axis='x', length=0)
        # tick marks sit on the zero line in this panel
        ax.plot(month_pos[1:], np.zeros(11), ls='none', marker='|', ms=5,
                mew=0.8, color=C_GRID, zorder=2)
        for pos, name in zip(month_pos, MONTHS):
            ax.annotate(name, xy=(pos, 0), xycoords=ax.get_xaxis_transform(),
                        xytext=(4, -12), textcoords='offset pixels',
                        rotation=40, ha='right', va='center', rotation_mode='anchor',
                        family=SERIF, fontweight='bold', fontsize=11.5, color=C_TEXT)
    else:
        ax.set_xticks(np.arange(0, N_DAYS, MONTH_LEN / 5), minor=True)
        ax.tick_params(axis='x', which='major', length=5, width=0.8, color=C_GRID)
        ax.tick_params(axis='x', which='minor', length=3, width=0.8, color=C_GRID)
        for pos, name in zip(month_pos, MONTHS):
            ax.annotate(name, xy=(pos, 0), xycoords=ax.get_xaxis_transform(),
                        xytext=(5, -11), textcoords='offset pixels',
                        rotation=60, ha='right', va='center', rotation_mode='anchor',
                        family=SANS, fontsize=11, color=C_TEXT)

    ftop, fbot, date_y = frame
    # chart-area frame
    fig.add_artist(Rectangle((fx(8), fy(fbot)), fx(1000), (fbot - ftop) / H,
                             transform=fig.transFigure, fill=False,
                             ec='#BFBFBF', lw=1.5))

    fig.text(fx(495), fy(ftop + 28), 'IBERIAN PENINSULA (des)', ha='center', va='center',
             family=SANS, fontweight='bold', fontsize=20, color='black')
    fig.text(fx(58), fy(ftop + 47), letter, ha='center', va='center',
             family=SERIF, fontsize=19, color='black')
    fig.text(fx(ylabel_pos[0]), fy(ylabel_pos[1]), ylabel, ha='center', va='center',
             rotation=90, family=SERIF, fontweight='bold', fontsize=11.5, color='black')
    fig.text(fx(945), fy((top + bottom) / 2 + 1), 'PRECIPITATION(mm/day)', ha='center',
             va='center', rotation=90, family=SERIF, fontweight='bold', fontsize=11,
             color='black')
    fig.text(fx(487), fy(date_y), 'Date', ha='center', va='center',
             family=SANS, fontweight='bold', fontsize=11, color=C_TEXT)

    handles = [
        Patch(facecolor=C_PRECIP, edgecolor='none'),
        Line2D([], [], ls='none', marker='o', ms=5.5, color=C_L2, mew=0),
        Line2D([], [], ls='none', marker='o', ms=5.5, color=C_L4, mew=0),
        Line2D([], [], ls='none', marker='o', ms=5.5, color=smos_color, mew=0),
    ]
    labels = ['PRECIPITATION', 'remap L2-L3', "remap L4'-L3", 'SMOS L3']
    fig.legend(handles, labels, loc='center', bbox_to_anchor=(fx(499), fy(top - 19)),
               ncol=4, frameon=False, handlelength=0.7, handleheight=0.7,
               handletextpad=0.3, columnspacing=1.9,
               prop={'family': SANS, 'size': 11})
    return ax


fig = plt.figure(figsize=(W / 100, H / 100), dpi=100)
fig.patch.set_facecolor('white')

draw_panel(fig, (10, 462, 452), 99, 389, 'a)',
           (STD_L2, STD_L2_ODD), (STD_L4, STD_L4_ODD), (STD_SMOS, STD_SMOS_ODD), C_SMOS,
           STD_TICKS, STD_LABELS, 'STD (m³m⁻³)', (45, 255), False, False)
draw_panel(fig, (466, 922, 912), 559, 850, 'b)',
           (IDX_L2, IDX_L2_ODD), (IDX_L4, IDX_L4_ODD), (IDX_SMOS, IDX_SMOS_ODD), C_SMOS_B,
           IDX_TICKS, IDX_LABELS, 'SMindex,i (dimensionless)', (60, 729), True, False)
draw_panel(fig, (928, 1400, 1371), 1021, 1312, 'c)',
           (CV_L2, CV_L2_ODD), (CV_L4, CV_L4_ODD), (CV_SMOS, CV_SMOS_ODD), C_SMOS,
           CV_TICKS, CV_LABELS, 'Cv (%)', (48, 1183), False, True)

fig.savefig('out.png', dpi=100)
